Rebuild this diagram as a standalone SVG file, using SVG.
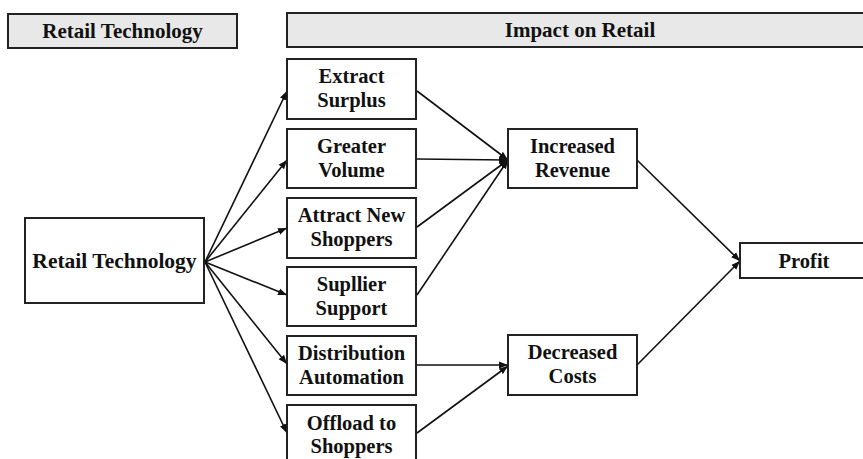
<svg xmlns="http://www.w3.org/2000/svg" width="863" height="459" viewBox="0 0 863 459">
<style>
.box{fill:#fff;stroke:#222;stroke-width:2}
.hdr{fill:#e8e8e8;stroke:#222;stroke-width:2}
.t{font-family:"Liberation Serif","Times New Roman",serif;font-weight:bold;font-size:20.5px;fill:#111;text-anchor:middle}
.h{font-family:"Liberation Serif","Times New Roman",serif;font-weight:bold;font-size:21px;fill:#111;text-anchor:middle}
.c{fill:none;stroke:#111;stroke-width:1.6}
</style>
<defs>
<marker id="ah" markerUnits="userSpaceOnUse" markerWidth="10" markerHeight="8" refX="9" refY="4" orient="auto">
<path d="M0,0.5 L9,4 L0,7.5 Z" fill="#111"/>
</marker>
</defs>
<rect width="863" height="459" fill="#fff"/>
<g id="hdr-tech"><rect class="hdr" x="8" y="14" width="229" height="34"/><text class="h" x="122.5" y="38">Retail Technology</text></g>
<g id="hdr-impact"><rect class="hdr" x="287" y="13" width="590" height="34"/><text class="h" x="580" y="37">Impact on Retail</text></g>
<g id="connectors">
<line class="c" x1="205" y1="262" x2="287" y2="91" marker-end="url(#ah)"/>
<line class="c" x1="205" y1="262" x2="287" y2="160" marker-end="url(#ah)"/>
<line class="c" x1="205" y1="262" x2="287" y2="228" marker-end="url(#ah)"/>
<line class="c" x1="205" y1="262" x2="287" y2="295" marker-end="url(#ah)"/>
<line class="c" x1="205" y1="262" x2="287" y2="364" marker-end="url(#ah)"/>
<line class="c" x1="205" y1="262" x2="287" y2="433" marker-end="url(#ah)"/>
<line class="c" x1="417" y1="91" x2="508" y2="160" marker-end="url(#ah)"/>
<line class="c" x1="417" y1="159" x2="508" y2="160" marker-end="url(#ah)"/>
<line class="c" x1="417" y1="227" x2="508" y2="160" marker-end="url(#ah)"/>
<line class="c" x1="417" y1="295" x2="508" y2="160" marker-end="url(#ah)"/>
<line class="c" x1="417" y1="365" x2="508" y2="365" marker-end="url(#ah)"/>
<line class="c" x1="417" y1="433" x2="508" y2="366" marker-end="url(#ah)"/>
<line class="c" x1="637" y1="160" x2="740" y2="261" marker-end="url(#ah)"/>
<line class="c" x1="637" y1="365" x2="740" y2="261" marker-end="url(#ah)"/>
</g>
<g id="retail-tech"><rect class="box" x="25" y="218" width="179" height="85"/><text class="t" x="114.5" y="268" style="font-size:21.5px">Retail Technology</text></g>
<g id="extract"><rect class="box" x="287" y="59" width="129" height="60"/><text class="t" x="351.5" y="83">Extract</text><text class="t" x="351.5" y="107">Surplus</text></g>
<g id="volume"><rect class="box" x="287" y="129" width="129" height="59"/><text class="t" x="351.5" y="153">Greater</text><text class="t" x="351.5" y="177">Volume</text></g>
<g id="attract"><rect class="box" x="287" y="198" width="129" height="60"/><text class="t" x="351.5" y="222">Attract New</text><text class="t" x="351.5" y="246">Shoppers</text></g>
<g id="supplier"><rect class="box" x="287" y="267" width="129" height="59"/><text class="t" x="351.5" y="291">Supllier</text><text class="t" x="351.5" y="315">Support</text></g>
<g id="distribution"><rect class="box" x="287" y="336" width="129" height="59"/><text class="t" x="351.5" y="360">Distribution</text><text class="t" x="351.5" y="384">Automation</text></g>
<g id="offload"><rect class="box" x="287" y="405" width="129" height="60"/><text class="t" x="351.5" y="430">Offload to</text><text class="t" x="351.5" y="453">Shoppers</text></g>
<g id="revenue"><rect class="box" x="508" y="129" width="129" height="59"/><text class="t" x="572.5" y="153">Increased</text><text class="t" x="572.5" y="177">Revenue</text></g>
<g id="costs"><rect class="box" x="508" y="335" width="129" height="60"/><text class="t" x="572.5" y="359">Decreased</text><text class="t" x="572.5" y="383">Costs</text></g>
<g id="profit"><rect class="box" x="740" y="243" width="130" height="35"/><text class="t" x="804" y="268">Profit</text></g>
</svg>
